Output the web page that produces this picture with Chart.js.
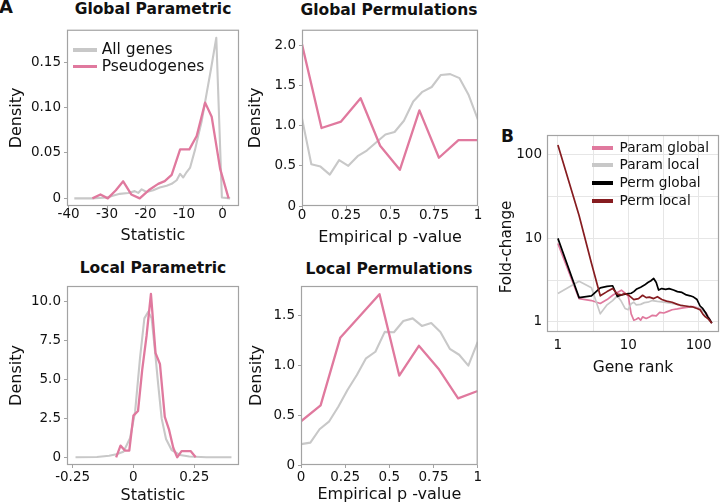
<!DOCTYPE html>
<html lang="en">
<head>
<meta charset="UTF-8">
<title>Pseudogene statistics and fold-change</title>
<script src="https://cdn.jsdelivr.net/npm/chart.js"></script>
<style>
    body {
        margin: 0;
        width: 720px;
        height: 504px;
        overflow: hidden;
        position: relative;
        background: #fff;
        font-family: "DejaVu Sans", sans-serif;
    }
    canvas { position: absolute; }
    .lbl {
        position: absolute;
        line-height: 1;
        white-space: nowrap;
        color: #111;
    }
    .tag { font-weight: bold; font-size: 18px; }
    .ttl { font-weight: bold; font-size: 15.5px; transform: translateX(-50%); }
    .leg { position: absolute; display: flex; align-items: center; white-space: nowrap; color: #111; line-height: 1; }
    .leg span.sw { display: inline-block; }
</style>
</head>
<body>
    <div class="lbl tag" style="left:-1px;top:-2px">A</div>
    <div class="lbl tag" style="left:501px;top:127.5px;font-size:17px">B</div>

    <div class="lbl ttl" style="left:153px;top:2px">Global Parametric</div>
    <div class="lbl ttl" style="left:389px;top:2.5px">Global Permulations</div>
    <div class="lbl ttl" style="left:153px;top:261.3px">Local Parametric</div>
    <div class="lbl ttl" style="left:389px;top:261.5px">Local Permulations</div>

    <canvas id="gParam"></canvas>
    <canvas id="gPerm"></canvas>
    <canvas id="lParam"></canvas>
    <canvas id="lPerm"></canvas>
    <canvas id="foldChange"></canvas>

    <div id="legA"></div>
    <div id="legB"></div>

<script>
// ---- A: Global Parametric (statistic vs density) ----
const gpAllX = [-38.5, -34, -30, -28.5, -26.7, -24.5, -22.8, -21.9, -21.0, -19.7, -18.0, -16.3, -14.5, -13.2, -11.9, -11.0, -10.2, -9.3, -8.4, -7.1, -6.3, -5.4, -4.1, -3.0, -1.6, -0.15, 2.0];
const gpAllY = [0, 0, 0.001, 0.003, 0.005, 0.006, 0.008, 0.006, 0.010, 0.007, 0.009, 0.012, 0.014, 0.016, 0.020, 0.027, 0.023, 0.029, 0.034, 0.054, 0.069, 0.085, 0.116, 0.142, 0.177, 0.001, 0];
const gpPseudoX = [-33.8, -31.7, -29.8, -27.7, -25.8, -23.7, -21.5, -18.9, -16.7, -15.0, -13.2, -11.0, -8.6, -6.7, -4.5, -2.8, -0.6, 1.6];
const gpPseudoY = [0, 0.0043, 0, 0.009, 0.0188, 0.0043, 0, 0.0098, 0.016, 0.019, 0.026, 0.054, 0.054, 0.0687, 0.1055, 0.090, 0.0325, 0];
const gpXTicks = [-40, -30, -20, -10, 0];
const gpXLabels = ['-40', '-30', '-20', '-10', '0'];
const gpYTicks = [0, 0.05, 0.10, 0.15];
const gpYLabels = ['0', '0.05', '0.10', '0.15'];

// ---- A: Global Permulations (empirical p-value vs density) ----
const gmAllX = [0, 0.053, 0.105, 0.158, 0.211, 0.263, 0.316, 0.368, 0.421, 0.474, 0.526, 0.579, 0.632, 0.684, 0.737, 0.789, 0.842, 0.895, 0.947, 1];
const gmAllY = [1.09, 0.52, 0.49, 0.39, 0.57, 0.50, 0.62, 0.69, 0.79, 0.89, 0.92, 1.06, 1.30, 1.42, 1.48, 1.63, 1.64, 1.59, 1.38, 1.07];
const gmPseudoX = [0, 0.111, 0.222, 0.333, 0.444, 0.556, 0.667, 0.778, 0.889, 1];
const gmPseudoY = [2.01, 0.97, 1.05, 1.34, 0.75, 0.45, 1.19, 0.60, 0.82, 0.82];
const pvTicks = [0, 0.25, 0.5, 0.75, 1];
const pvLabels = ['0', '0.25', '0.5', '0.75', '1'];
const gmYTicks = [0, 0.5, 1.0, 1.5, 2.0];
const gmYLabels = ['0', '0.5', '1.0', '1.5', '2.0'];

// ---- A: Local Parametric ----
const lpAllX = [-0.238, -0.15, -0.10, -0.07, -0.041, -0.014, 0.007, 0.027, 0.045, 0.061, 0.075, 0.089, 0.102, 0.116, 0.134, 0.157, 0.191, 0.23, 0.30, 0.403];
const lpAllY = [0, 0.02, 0.1, 0.2, 0.36, 1.22, 2.93, 6.36, 8.93, 9.36, 8.93, 6.79, 4.65, 2.5, 1.18, 0.47, 0.15, 0.05, 0, 0];
const lpPseudoX = [-0.071, -0.053, -0.035, -0.017, 0, 0.019, 0.036, 0.054, 0.072, 0.091, 0.109, 0.129, 0.146, 0.164, 0.180, 0.198, 0.216, 0.235, 0.256];
const lpPseudoY = [0, 0.75, 0.43, 0.43, 2.68, 2.98, 5.6, 7.8, 10.5, 6.7, 6.0, 2.6, 1.8, 0.6, 0, 0.4, 0.4, 0.4, 0];
const lpXTicks = [-0.25, 0, 0.25];
const lpXLabels = ['-0.25', '0', '0.25'];
const lpYTicks = [0, 2.5, 5, 7.5, 10];
const lpYLabels = ['0', '2.5', '5.0', '7.5', '10.0'];

// ---- A: Local Permulations ----
const lmAllX = gmAllX;
const lmAllY = [0.21, 0.225, 0.36, 0.436, 0.587, 0.755, 0.906, 1.074, 1.14, 1.34, 1.336, 1.45, 1.476, 1.40, 1.43, 1.34, 1.17, 1.11, 1.0, 1.24];
const lmPseudoX = gmPseudoX;
const lmPseudoY = [0.44, 0.60, 1.28, 1.50, 1.72, 0.90, 1.20, 0.97, 0.67, 0.745];
const lmYTicks = [0, 0.5, 1.0, 1.5];
const lmYLabels = ['0', '0.5', '1.0', '1.5'];

// ---- B: fold-change by gene rank ----
const pgRank = [1, 2, 3, 4, 5, 6, 7, 8, 9, 10, 11, 12, 13, 14, 15, 16, 18, 20, 22, 25, 28, 32, 36, 42, 50, 60, 72, 85, 100, 115, 128, 140, 154];
const pgFold = [8.6, 1.9, 1.8, 1.66, 1.85, 2.08, 2.25, 2.39, 2.2, 2.05, 1.25, 1.05, 1.08, 1.12, 1.05, 1.15, 1.1, 1.15, 1.2, 1.18, 1.3, 1.28, 1.33, 1.4, 1.43, 1.47, 1.5, 1.52, 1.46, 1.38, 1.28, 1.12, 0.97];
const plRank = [1, 2, 3, 4, 5, 6, 7, 8, 9, 10, 11, 12, 13, 15, 17, 19, 22, 26, 32, 40, 50, 65, 80, 100, 120, 135, 154];
const plFold = [2.18, 3.05, 2.55, 1.25, 1.6, 1.8, 2.05, 1.75, 1.45, 1.4, 1.65, 1.72, 1.6, 1.62, 1.7, 1.72, 1.8, 1.76, 1.72, 1.68, 1.62, 1.55, 1.52, 1.45, 1.32, 1.15, 0.97];
const mgRank = [1, 2, 3, 4, 5, 6, 7, 8, 9, 10, 11, 12, 13, 15, 17, 19, 21, 23, 25, 27, 30, 34, 38, 44, 50, 58, 67, 76, 85, 95, 105, 115, 125, 135, 145, 154];
const mgFold = [9.9, 1.95, 2.05, 2.55, 2.65, 2.7, 2.02, 2.1, 2.15, 2.18, 2.2, 2.3, 2.45, 2.6, 2.75, 2.95, 3.1, 3.3, 2.95, 2.4, 2.5, 2.45, 2.5, 2.4, 2.3, 2.25, 2.1, 2.05, 1.98, 1.85, 1.55, 1.44, 1.3, 1.15, 1.06, 0.97];
const mlRank = [1, 2, 3, 4, 5, 6, 7, 8, 9, 10, 12, 14, 16, 18, 20, 23, 26, 30, 35, 42, 50, 55, 65, 75, 83, 95, 105, 115, 125, 135, 145, 154];
const mlFold = [128, 18.5, 5.0, 2.05, 2.3, 2.5, 2.15, 2.1, 2.18, 2.1, 1.85, 1.9, 2.08, 1.95, 1.98, 1.9, 2.0, 1.85, 1.77, 1.72, 1.62, 1.58, 1.55, 1.52, 1.51, 1.45, 1.4, 1.24, 1.15, 1.1, 1.03, 0.97];
const logTicks = [1, 3.1623, 10, 31.623, 100];
const logLabels = ['1', '', '10', '', '100'];

const densityNames = ['All genes', 'Pseudogenes'];
const foldNames = ['Param global', 'Param local', 'Perm global', 'Perm local'];

const PINK = '#e0799e';
const GREY = '#c8c8c8';
const DARKRED = '#861c20';
const BLACK = '#000000';
const INK = '#111111';
const FONT = '"DejaVu Sans", sans-serif';

function pts(xs, ys) {
    return xs.map((x, i) => ({ x: x, y: ys[i] }));
}

// grey box round the plotting area, drawn over the lines like ggplot's panel border
const frame = {
    id: 'frame',
    afterDatasetsDraw(chart, args, opts) {
        const a = chart.chartArea, ctx = chart.ctx;
        ctx.save();
        ctx.strokeStyle = opts.color;
        ctx.lineWidth = opts.width;
        ctx.strokeRect(a.left + 0.5, a.top + 0.5, a.right - a.left - 1, a.bottom - a.top - 1);
        ctx.restore();
    }
};

// y title placed at a fixed spot (panel B's title is not centred on its axis)
const sideTitle = {
    id: 'sideTitle',
    afterDraw(chart, args, opts) {
        if (!opts.text) return;
        const ctx = chart.ctx;
        ctx.save();
        ctx.translate(opts.x, opts.y);
        ctx.rotate(-Math.PI / 2);
        ctx.font = opts.size + 'px ' + FONT;
        ctx.fillStyle = INK;
        ctx.textAlign = 'center';
        ctx.textBaseline = 'middle';
        ctx.fillText(opts.text, 0, 0);
        ctx.restore();
    }
};

function panel(id, box, area, o) {
    const cv = document.getElementById(id);
    cv.width = box.w;
    cv.height = box.h;
    cv.style.left = box.x + 'px';
    cv.style.top = box.y + 'px';
    const tickFont = { family: FONT, size: 13.5, lineHeight: 1 };
    const titleFont = { family: FONT, size: o.titleSize || 16, lineHeight: 1 };
    return new Chart(cv, {
        type: 'line',
        data: { datasets: o.datasets },
        plugins: [frame, sideTitle],
        options: {
            responsive: false,
            animation: false,
            events: [],
            layout: { padding: { left: 0, bottom: 0, top: area.t - box.y, right: box.x + box.w - area.r } },
            elements: { point: { radius: 0 }, line: { tension: 0, borderJoinStyle: 'round' } },
            plugins: {
                legend: { display: false },
                tooltip: { enabled: false },
                frame: { color: '#a3a3a3', width: 1.2 },
                sideTitle: o.side || {}
            },
            scales: {
                x: {
                    type: o.log ? 'logarithmic' : 'linear',
                    min: o.xMin, max: o.xMax,
                    afterFit: s => { s.height = box.y + box.h - area.b; },
                    afterBuildTicks: s => { s.ticks = o.xTicks.map(v => ({ value: v })); },
                    border: { display: false },
                    grid: o.grid,
                    ticks: {
                        font: tickFont, color: INK, padding: o.xPad,
                        maxRotation: 0, autoSkip: false,
                        callback: (v, i) => o.xLabels[i]
                    },
                    title: {
                        display: true, text: o.xTitle, font: titleFont, color: INK,
                        padding: { top: 0, bottom: o.xTitlePad }
                    }
                },
                y: {
                    type: o.log ? 'logarithmic' : 'linear',
                    min: o.yMin, max: o.yMax,
                    afterFit: s => { s.width = area.l - box.x; },
                    afterBuildTicks: s => { s.ticks = o.yTicks.map(v => ({ value: v })); },
                    border: { display: false },
                    grid: o.grid,
                    ticks: {
                        font: tickFont, color: INK, padding: o.yPad,
                        autoSkip: false,
                        callback: (v, i) => o.yLabels[i]
                    },
                    title: {
                        display: !!o.yTitle, text: o.yTitle || '', font: titleFont, color: INK,
                        padding: { top: o.yTitlePad || 0, bottom: 0 }
                    }
                }
            }
        }
    });
}

function densitySets(allX, allY, psX, psY) {
    // pseudogenes first so that the pink line sits on top
    return [
        { label: densityNames[1], data: pts(psX, psY), borderColor: PINK, borderWidth: 2.3 },
        { label: densityNames[0], data: pts(allX, allY), borderColor: GREY, borderWidth: 2.1 }
    ];
}

const tickOnly = { drawOnChartArea: false, drawTicks: true, tickLength: 3, color: '#a3a3a3', lineWidth: 1 };

panel('gParam', { x: 0, y: 20, w: 245, h: 230 }, { l: 67, t: 27, r: 239, b: 206 }, {
    datasets: densitySets(gpAllX, gpAllY, gpPseudoX, gpPseudoY),
    xMin: -40.4, xMax: 4.3, yMin: -0.0084, yMax: 0.1858,
    xTicks: gpXTicks, xLabels: gpXLabels, yTicks: gpYTicks, yLabels: gpYLabels,
    grid: tickOnly, xPad: -1, yPad: 3,
    xTitle: 'Statistic', xTitlePad: 6, yTitle: 'Density', yTitlePad: 8.5
});

panel('gPerm', { x: 245, y: 20, w: 240, h: 230 }, { l: 302, t: 27, r: 478, b: 206 }, {
    datasets: densitySets(gmAllX, gmAllY, gmPseudoX, gmPseudoY),
    xMin: 0, xMax: 1, yMin: 0, yMax: 2.192,
    xTicks: pvTicks, xLabels: pvLabels, yTicks: gmYTicks, yLabels: gmYLabels,
    grid: tickOnly, xPad: 0, yPad: 3,
    xTitle: 'Empirical p -value', xTitlePad: 4.5, yTitle: 'Density', yTitlePad: 2.5
});

panel('lParam', { x: 0, y: 270, w: 245, h: 234 }, { l: 67, t: 286, r: 239, b: 465 }, {
    datasets: densitySets(lpAllX, lpAllY, lpPseudoX, lpPseudoY),
    xMin: -0.273, xMax: 0.434, yMin: -0.495, yMax: 11.01,
    xTicks: lpXTicks, xLabels: lpXLabels, yTicks: lpYTicks, yLabels: lpYLabels,
    grid: tickOnly, xPad: 3, yPad: 3,
    xTitle: 'Statistic', xTitlePad: 0, yTitle: 'Density', yTitlePad: 8.5
});

panel('lPerm', { x: 245, y: 270, w: 240, h: 234 }, { l: 301, t: 286, r: 478, b: 465 }, {
    datasets: densitySets(lmAllX, lmAllY, lmPseudoX, lmPseudoY),
    xMin: 0, xMax: 1, yMin: 0, yMax: 1.802,
    xTicks: pvTicks, xLabels: pvLabels, yTicks: lmYTicks, yLabels: lmYLabels,
    grid: tickOnly, xPad: 3, yPad: 3,
    xTitle: 'Empirical p -value', xTitlePad: 1.5, yTitle: 'Density', yTitlePad: 3.8
});

panel('foldChange', { x: 490, y: 120, w: 230, h: 260 }, { l: 547, t: 135, r: 719, b: 332 }, {
    log: true,
    datasets: [
        { label: foldNames[0], data: pts(pgRank, pgFold), borderColor: PINK, borderWidth: 1.7, order: 4 },
        { label: foldNames[1], data: pts(plRank, plFold), borderColor: GREY, borderWidth: 1.7, order: 3 },
        { label: foldNames[2], data: pts(mgRank, mgFold), borderColor: BLACK, borderWidth: 1.7, order: 2 },
        { label: foldNames[3], data: pts(mlRank, mlFold), borderColor: DARKRED, borderWidth: 1.7, order: 1 }
    ],
    xMin: 0.74, xMax: 195, yMin: 0.76, yMax: 168.5,
    xTicks: logTicks, xLabels: logLabels, yTicks: logTicks, yLabels: logLabels,
    grid: { color: '#e6e6e6', lineWidth: 1, drawTicks: false },
    xPad: 7, yPad: 5, titleSize: 15.5,
    xTitle: 'Gene rank', xTitlePad: 4,
    side: { text: 'Fold-change', x: 17.5, y: 127, size: 15.2 }
});

// legends sit inside the panels, so they are placed by hand
function legend(id, names, colors, o) {
    const box = document.getElementById(id);
    names.forEach((name, i) => {
        const row = document.createElement('div');
        row.className = 'leg';
        row.style.left = o.x + 'px';
        row.style.top = (o.rows[i] - 8) + 'px';
        row.style.height = '16px';
        row.style.fontSize = o.size + 'px';
        const sw = document.createElement('span');
        sw.className = 'sw';
        sw.style.width = o.sw + 'px';
        sw.style.height = o.thick + 'px';
        sw.style.background = colors[i];
        sw.style.marginRight = o.gap + 'px';
        row.appendChild(sw);
        row.appendChild(document.createTextNode(name));
        box.appendChild(row);
    });
}

legend('legA', densityNames, [GREY, PINK], { x: 73, rows: [50, 66.7], size: 15.5, sw: 24, thick: 3.5, gap: 4.7 });
legend('legB', foldNames, [PINK, GREY, BLACK, DARKRED], { x: 591.7, rows: [148.3, 165.2, 182.8, 200.7], size: 13.7, sw: 21.6, thick: 4, gap: 6.3 });
</script>
</body>
</html>
